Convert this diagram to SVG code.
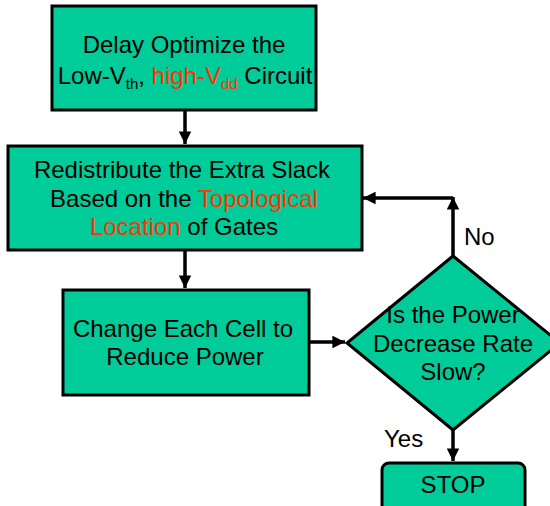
<svg xmlns="http://www.w3.org/2000/svg" width="550" height="506" viewBox="0 0 550 506">
  <style>
    .box { fill: #00CC99; stroke: #000; stroke-width: 3; }
    .t { font-family: "Liberation Sans", Arial, sans-serif; font-size: 24px; fill: #000; text-anchor: middle; }
    .lbl { font-family: "Liberation Sans", Arial, sans-serif; font-size: 24px; fill: #000; }
    .red { fill: #FF3300; }
    .sub { font-size: 15px; }
    .edge { fill: none; stroke: #000; stroke-width: 3.5; }
  </style>
  <defs>
    <marker id="arrow" viewBox="0 0 10 10" refX="10" refY="5" markerWidth="4" markerHeight="3.6" orient="auto" markerUnits="strokeWidth">
      <path d="M0,0 L10,5 L0,10 Z" fill="#000"/>
    </marker>
  </defs>

  <rect width="550" height="506" fill="#fff"/>

  <g id="connectors">
    <line class="edge" x1="185" y1="111" x2="185" y2="144" marker-end="url(#arrow)"/>
    <line class="edge" x1="185" y1="251" x2="185" y2="288" marker-end="url(#arrow)"/>
    <line class="edge" x1="309" y1="342" x2="345" y2="342" marker-end="url(#arrow)"/>
    <line class="edge" x1="453" y1="256" x2="453" y2="197" marker-end="url(#arrow)"/>
    <line class="edge" x1="453" y1="198" x2="363" y2="198" marker-end="url(#arrow)"/>
    <line class="edge" x1="453" y1="430" x2="453" y2="461" marker-end="url(#arrow)"/>
    <text class="lbl" x="464" y="245">No</text>
    <text class="lbl" x="384" y="447">Yes</text>
  </g>

  <g id="delay-optimize">
    <rect class="box" x="52" y="6" width="264" height="104"/>
    <text class="t" x="184" y="53">Delay Optimize the</text>
    <text class="t" x="185" y="84">Low-V<tspan class="sub" dy="5">th</tspan><tspan dy="-5">, </tspan><tspan class="red">high-V</tspan><tspan class="red sub" dy="5">dd</tspan><tspan dy="-5"> Circuit</tspan></text>
  </g>

  <g id="redistribute">
    <rect class="box" x="8" y="146" width="354" height="104"/>
    <text class="t" x="182" y="178">Redistribute the Extra Slack</text>
    <text class="t" x="184" y="207">Based on the <tspan class="red">Topological</tspan></text>
    <text class="t" x="184" y="235"><tspan class="red">Location</tspan> of Gates</text>
  </g>

  <g id="change-cell">
    <rect class="box" x="63" y="290" width="246" height="105"/>
    <text class="t" x="183" y="337">Change Each Cell to</text>
    <text class="t" x="185" y="365">Reduce Power</text>
  </g>

  <g id="decision">
    <polygon class="box" points="453,256 560,343 453,430 347,343"/>
    <text class="t" x="453" y="323">Is the Power</text>
    <text class="t" x="453" y="352">Decrease Rate</text>
    <text class="t" x="453" y="380">Slow?</text>
  </g>

  <g id="stop">
    <rect class="box" x="382" y="463" width="143" height="50" rx="7"/>
    <text class="t" x="453" y="493">STOP</text>
  </g>
</svg>
